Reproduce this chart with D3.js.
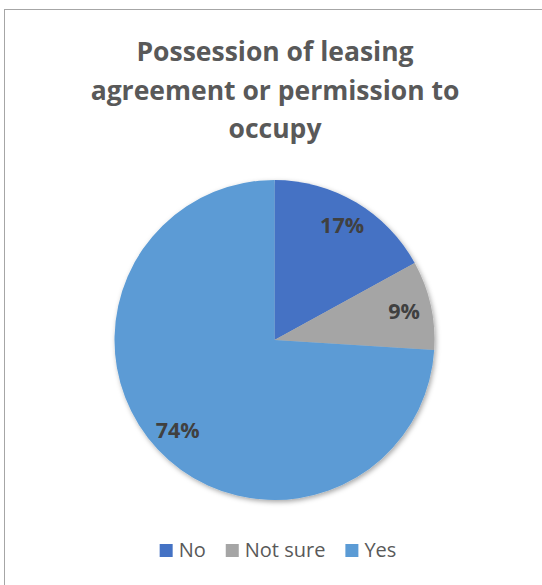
<!DOCTYPE html>
<html>
<head>
<meta charset="utf-8">
<script src="https://cdn.jsdelivr.net/npm/d3@7"></script>
<style>
  body { margin: 0; background: #fff; }
  svg { display: block; font-family: "Open Sans", sans-serif; }
</style>
</head>
<body>
<div id="chart"></div>
<script>
// ----------------------------------------------------------------
// Data
// ----------------------------------------------------------------

const titleLines = ["Possession of leasing", "agreement or permission to", "occupy"];
const categories = ["No", "Not sure", "Yes"];
const shares = [17, 9, 74];
const colours = ["#4472C4", "#A5A5A5", "#5B9BD5"];

// ----------------------------------------------------------------
// Drawing
// ----------------------------------------------------------------

const width = 542;
const height = 585;
const cx = 274.5;
const cy = 340;
const radius = 160;

const svg = d3.select("#chart").append("svg")
  .attr("width", width)
  .attr("height", height);

// soft shadow like the office chart
const defs = svg.append("defs");
defs.append("filter")
  .attr("id", "shadow")
  .attr("x", "-20%").attr("y", "-20%")
  .attr("width", "140%").attr("height", "140%")
  .append("feDropShadow")
  .attr("dx", 1.5).attr("dy", 2)
  .attr("stdDeviation", 2.5)
  .attr("flood-color", "#000")
  .attr("flood-opacity", 0.35);

// chart frame (runs past the right and bottom edge)
svg.append("rect")
  .attr("x", 4.5).attr("y", 9.5)
  .attr("width", 600).attr("height", 600)
  .attr("fill", "#fff")
  .attr("stroke", "#A6A6A6")
  .attr("stroke-width", 1);

// title
svg.append("g").selectAll("text")
  .data(titleLines)
  .join("text")
  .attr("x", 275)
  .attr("y", (d, i) => 61 + i * 38.5)
  .attr("text-anchor", "middle")
  .attr("font-size", 26.5)
  .attr("font-weight", 700)
  .attr("fill", "#595959")
  .text(d => d);

// pie
const pie = d3.pie().sort(null).value(d => d);
const arcs = pie(shares);
const arc = d3.arc().innerRadius(0).outerRadius(radius);
const labelArc = d3.arc().innerRadius(radius * 0.83).outerRadius(radius * 0.83);

const g = svg.append("g").attr("transform", `translate(${cx},${cy})`);

g.append("g")
  .attr("filter", "url(#shadow)")
  .selectAll("path")
  .data(arcs)
  .join("path")
  .attr("d", arc)
  .attr("fill", (d, i) => colours[i]);

g.append("g").selectAll("text")
  .data(arcs)
  .join("text")
  .attr("transform", d => `translate(${labelArc.centroid(d)})`)
  .attr("text-anchor", "middle")
  .attr("dy", "0.35em")
  .attr("font-size", 21.5)
  .attr("font-weight", 700)
  .attr("fill", "#404040")
  .text(d => d.data + "%");

// legend
const legend = svg.append("g");
const items = legend.selectAll("g")
  .data(categories)
  .join("g");

items.append("rect")
  .attr("width", 13).attr("height", 13)
  .attr("y", -13)
  .attr("fill", (d, i) => colours[i]);

items.append("text")
  .attr("x", 19)
  .attr("y", 0)
  .attr("font-size", 20)
  .attr("fill", "#595959")
  .text(d => d);

let xPos = 0;
items.each(function () {
  const w = 19 + d3.select(this).select("text").node().getComputedTextLength();
  d3.select(this).attr("transform", `translate(${xPos},0)`);
  xPos += w + 20;
});
const legendWidth = xPos - 20;
legend.attr("transform", `translate(${278 - legendWidth / 2},557)`);
</script>
</body>
</html>
